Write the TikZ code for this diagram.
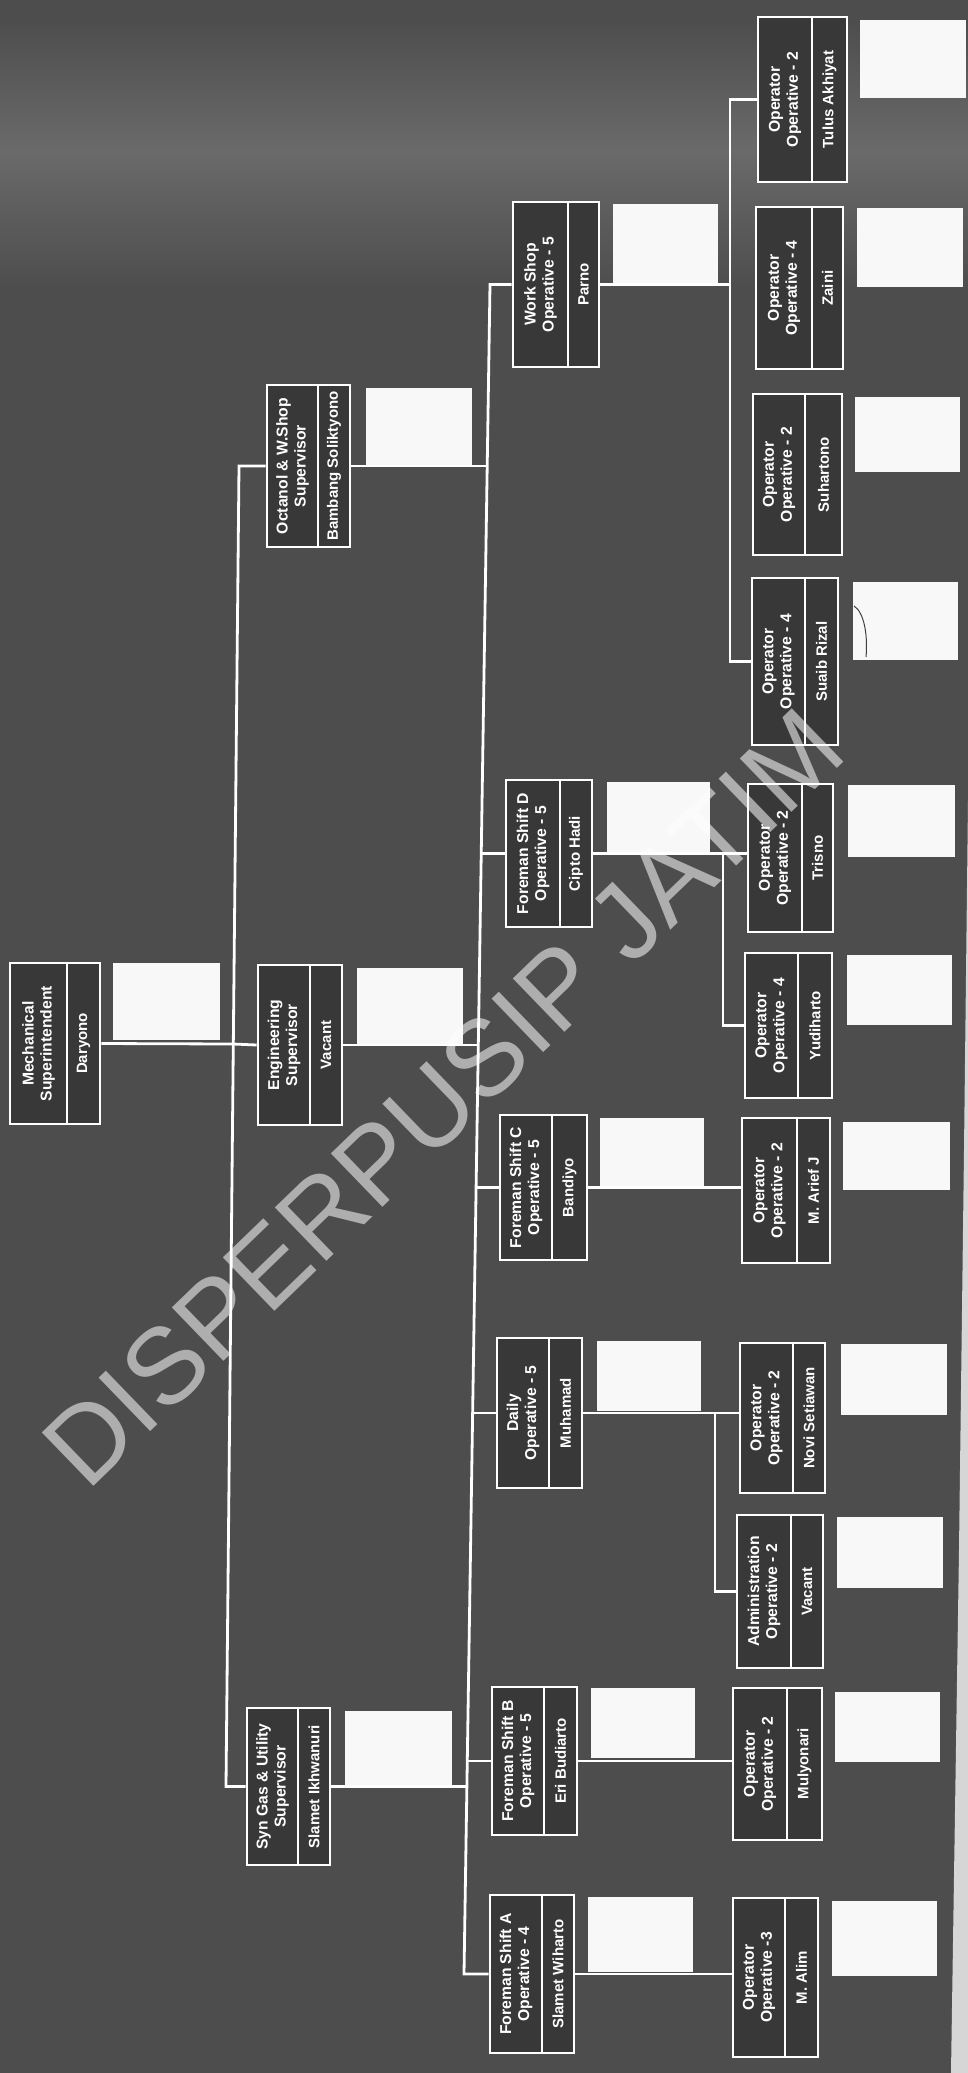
\documentclass[tikz,border=0pt]{standalone}
\usepackage{fontspec}
\setmainfont{Liberation Sans}
\usetikzlibrary{calc}
\definecolor{bgc}{HTML}{4D4D4D}
\definecolor{bandc}{HTML}{6A6A6A}
\definecolor{boxc}{HTML}{383838}
\definecolor{photoc}{HTML}{F8F8F8}
\definecolor{edgec}{HTML}{D6D6D6}
\definecolor{inkc}{HTML}{404040}
\tikzset{
  boxst/.style={rectangle, draw=white, line width=2.6pt, fill=boxc, inner sep=0pt},
  divst/.style={draw=white, line width=2.3pt},
  titlest/.style={rotate=90, text=white, align=center, inner sep=0pt, font=\fontsize{15.7}{18}\selectfont\bfseries},
  namest/.style={rotate=90, text=white, inner sep=0pt, font=\fontsize{15}{18}\selectfont\bfseries},
  photost/.style={rectangle, fill=photoc, draw=none, inner sep=0pt},
  conn/.style={draw=white, line width=2.8pt, line join=miter},
  wmark/.style={rotate=44, text=white, text opacity=0.55, inner sep=0pt, font=\fontsize{108}{108}\selectfont},
}
\newcommand\orgbox[8]{%
  \pgfmathsetmacro\orgW{#4-#2}\pgfmathsetmacro\orgH{#5-#3}%
  \pgfmathsetmacro\orgCX{(#2+#4)/2}\pgfmathsetmacro\orgCY{(#3+#5)/2}%
  \pgfmathsetmacro\orgTX{(#2+#6)/2}\pgfmathsetmacro\orgNX{(#6+#4)/2}%
  \node[boxst, minimum width=\orgW pt, minimum height=\orgH pt] (#1) at (\orgCX,\orgCY) {};
  \draw[divst] (#6,#3) -- (#6,#5);
  \node[titlest] (#1-t) at (\orgTX,\orgCY) {#7};
  \node[namest] (#1-n) at (\orgNX,\orgCY) {#8};
}
\newcommand\photobox[5]{%
  \pgfmathsetmacro\orgPW{#4-#2}\pgfmathsetmacro\orgPH{#5-#3}%
  \pgfmathsetmacro\orgPX{(#2+#4)/2}\pgfmathsetmacro\orgPY{(#3+#5)/2}%
  \node[photost, minimum width=\orgPW pt, minimum height=\orgPH pt] (#1) at (\orgPX,\orgPY) {};
}
\begin{document}
\begin{tikzpicture}[x=1pt,y=-1pt]
\path[use as bounding box] (0,0) rectangle (968,2073);
\fill[bgc] (0,0) rectangle (968,2073);
\shade[top color=bgc, bottom color=bandc] (0,20) rectangle (968,150);
\shade[top color=bandc, bottom color=bgc] (0,150) rectangle (968,290);
\fill[edgec] (968,800) -- (964,1150) -- (959,1550) -- (951,2073) -- (968,2073) -- cycle;

% level 1 and 2
\orgbox{ms}{10}{963}{100}{1124}{67}{Mechanical\\Superintendent}{Daryono}
\orgbox{oct}{267}{385}{350}{547}{318}{Octanol \& W.Shop\\Supervisor}{Bambang Soliktyono}
\orgbox{es}{258}{965}{342}{1125}{310}{Engineering\\Supervisor}{Vacant}
\orgbox{syn}{247}{1708}{330}{1865}{298}{Syn Gas \& Utility\\Supervisor}{Slamet Ikhwanuri}

% level 3
\orgbox{ws}{513}{202}{599}{367}{568}{Work Shop\\Operative - 5}{Parno}
\orgbox{fd}{506}{780}{592}{927}{560}{Foreman Shift D\\Operative - 5}{Cipto Hadi}
\orgbox{fc}{500}{1115}{587}{1260}{552}{Foreman Shift C\\Operative - 5}{Bandiyo}
\orgbox{dl}{497}{1338}{582}{1488}{549}{Daily\\Operative - 5}{Muhamad}
\orgbox{fb}{492}{1687}{577}{1835}{544}{Foreman Shift B\\Operative - 5}{Eri Budiarto}
\orgbox{fa}{490}{1895}{574}{2053}{542}{Foreman Shift A\\Operative - 4}{Slamet Wiharto}

% level 4
\orgbox{tulus}{758}{17}{847}{182}{812}{Operator\\Operative - 2}{Tulus Akhiyat}
\orgbox{zaini}{756}{207}{843}{369}{812}{Operator\\Operative - 4}{Zaini}
\orgbox{suh}{753}{394}{842}{555}{805}{Operator\\Operative - 2}{Suhartono}
\orgbox{suaib}{752}{578}{838}{745}{805}{Operator\\Operative - 4}{Suaib Rizal}
\orgbox{trisno}{748}{784}{833}{932}{802}{Operator\\Operative - 2}{Trisno}
\orgbox{yudi}{745}{953}{832}{1098}{798}{Operator\\Operative - 4}{Yudiharto}
\orgbox{arief}{742}{1118}{830}{1263}{797}{Operator\\Operative - 2}{M. Arief J}
\orgbox{novi}{740}{1343}{825}{1493}{793}{Operator\\Operative - 2}{Novi Setiawan}
\orgbox{admin}{737}{1515}{823}{1668}{791}{Administration\\Operative - 2}{Vacant}
\orgbox{mulyo}{733}{1688}{822}{1840}{787}{Operator\\Operative - 2}{Mulyonari}
\orgbox{alim}{733}{1898}{818}{2057}{785}{Operator\\Operative -3}{M. Alim}

% photo squares
\photobox{ms-p}{113}{963}{220}{1040}
\photobox{es-p}{357}{968}{463}{1045}
\photobox{oct-p}{366}{388}{472}{465}
\photobox{syn-p}{345}{1711}{452}{1787}
\photobox{ws-p}{613}{204}{718}{283}
\photobox{fd-p}{607}{782}{710}{852}
\photobox{fc-p}{600}{1118}{704}{1187}
\photobox{dl-p}{597}{1341}{701}{1411}
\photobox{fb-p}{591}{1688}{695}{1758}
\photobox{fa-p}{588}{1897}{693}{1972}
\photobox{tulus-p}{860}{20}{966}{98}
\photobox{zaini-p}{857}{208}{963}{287}
\photobox{suh-p}{855}{397}{960}{472}
\photobox{suaib-p}{853}{582}{958}{660}
\photobox{trisno-p}{848}{785}{955}{857}
\photobox{yudi-p}{847}{955}{952}{1025}
\photobox{arief-p}{843}{1122}{950}{1190}
\photobox{novi-p}{841}{1344}{947}{1415}
\photobox{admin-p}{837}{1517}{943}{1588}
\photobox{mulyo-p}{835}{1692}{940}{1762}
\photobox{alim-p}{832}{1901}{937}{1976}
\draw[inkc, line width=1pt] (854,606) .. controls (864,612) and (868,635) .. (866,657);

% first trunk
\coordinate (t1oct) at (239,466);
\coordinate (t1ms) at (233.3,1044);
\coordinate (t1syn) at (226,1786.5);
\draw[conn] (oct.west) -- (t1oct) -- (t1syn) -- (syn.west);
\draw[conn] (ms.east) -- (t1ms) -- (es.west);

% second trunk
\coordinate (t2ws) at (490,284.5);
\coordinate (t2oct) at (487.2,466);
\coordinate (t2fd) at (481.3,853.5);
\coordinate (t2es) at (478.3,1045);
\coordinate (t2fc) at (476.1,1187.5);
\coordinate (t2dl) at (472.7,1413);
\coordinate (t2fb) at (467.3,1761);
\coordinate (t2syn) at (466.9,1786.5);
\coordinate (t2fa) at (464,1974);
\draw[conn] (ws.west) -- (t2ws) -- (t2fa) -- (fa.west);
\draw[conn] (oct.east) -- (t2oct);
\draw[conn] (es.east) -- (t2es);
\draw[conn] (syn.east) -- (t2syn);
\draw[conn] (t2fd) -- (fd.west);
\draw[conn] (t2fc) -- (fc.west);
\draw[conn] (t2dl) -- (dl.west);
\draw[conn] (t2fb) -- (fb.west);

% sub groups
\coordinate (s1a) at (730,99.5);
\coordinate (s1b) at (730,661.5);
\draw[conn] (tulus.west) -- (s1a) -- (s1b) -- (suaib.west);
\draw[conn] (ws.east) -- (ws.east -| s1a);

\coordinate (s2a) at (723,853.5);
\coordinate (s2b) at (723,1025.5);
\draw[conn] (fd.east) -- (fd.east -| trisno.west);
\draw[conn] (s2a) -- (s2b) -- (yudi.west);

\coordinate (s3a) at (715,1413);
\coordinate (s3b) at (715,1591.5);
\draw[conn] (dl.east) -- (dl.east -| novi.west);
\draw[conn] (s3a) -- (s3b) -- (admin.west);

\draw[conn] (fc.east) -- (fc.east -| arief.west);
\draw[conn] (fb.east) -- (fb.east -| mulyo.west);
\draw[conn] (fa.east) -- (fa.east -| alim.west);

% watermark
\node[wmark] (wm) at (443,1098) {DISPERPUSIP JATIM};
\end{tikzpicture}
\end{document}
